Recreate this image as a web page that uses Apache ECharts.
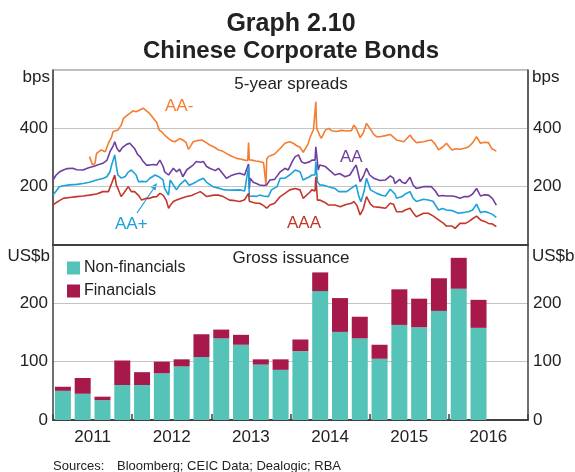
<!DOCTYPE html>
<html>
<head>
<meta charset="utf-8">
<title>Chinese Corporate Bonds</title>
<script src="https://cdn.jsdelivr.net/npm/echarts@6/dist/echarts.min.js"></script>
<style>
  html, body { margin: 0; padding: 0; background: #fff; }
  #chart { width: 575px; height: 472px; }
</style>
</head>
<body>
<div id="chart"></div>
<script>
// 5-year spreads, bps  [decimal year, value]
const spreadAAminus = [[2011.46,303],[2011.50,274],[2011.53,280],[2011.55,314],[2011.61,326],[2011.66,320],[2011.70,349],[2011.74,370],[2011.76,389],[2011.82,394],[2011.86,410],[2011.89,434],[2011.94,445],[2011.97,451],[2012.01,460],[2012.05,457],[2012.09,462],[2012.14,469],[2012.18,460],[2012.22,451],[2012.27,434],[2012.31,420],[2012.34,394],[2012.37,389],[2012.41,377],[2012.46,365],[2012.50,357],[2012.54,354],[2012.60,365],[2012.64,360],[2012.68,352],[2012.71,328],[2012.74,340],[2012.77,354],[2012.82,358],[2012.88,360],[2012.94,350],[2012.98,343],[2013.04,335],[2013.09,326],[2013.14,322],[2013.19,314],[2013.25,305],[2013.32,297],[2013.38,294],[2013.42,291],[2013.46,290],[2013.47,351],[2013.48,292],[2013.51,291],[2013.56,288],[2013.61,286],[2013.66,282],[2013.68,282],[2013.69,206],[2013.70,295],[2013.72,303],[2013.76,308],[2013.80,312],[2013.87,331],[2013.93,349],[2013.99,354],[2014.04,348],[2014.08,340],[2014.12,335],[2014.16,318],[2014.18,314],[2014.22,345],[2014.25,371],[2014.29,395],[2014.31,400],[2014.32,491],[2014.33,400],[2014.35,389],[2014.37,375],[2014.39,366],[2014.44,394],[2014.48,400],[2014.52,392],[2014.58,389],[2014.64,393],[2014.71,391],[2014.77,392],[2014.80,411],[2014.83,400],[2014.88,368],[2014.92,385],[2014.96,417],[2015.01,397],[2015.05,380],[2015.09,371],[2015.13,371],[2015.20,375],[2015.26,379],[2015.30,370],[2015.34,360],[2015.43,354],[2015.47,365],[2015.51,377],[2015.55,362],[2015.59,351],[2015.68,354],[2015.74,358],[2015.78,360],[2015.83,345],[2015.87,326],[2015.92,335],[2015.97,349],[2016.04,326],[2016.09,330],[2016.14,328],[2016.20,332],[2016.25,337],[2016.30,350],[2016.35,371],[2016.40,349],[2016.45,352],[2016.50,351],[2016.54,331],[2016.60,322]];

const spreadAA = [[2011.00,223],[2011.04,240],[2011.08,250],[2011.13,257],[2011.18,262],[2011.25,263],[2011.30,258],[2011.38,257],[2011.45,265],[2011.51,269],[2011.57,275],[2011.63,280],[2011.68,290],[2011.72,320],[2011.76,340],[2011.78,354],[2011.81,330],[2011.84,320],[2011.88,335],[2011.93,345],[2011.97,349],[2011.99,354],[2012.03,331],[2012.07,310],[2012.10,303],[2012.14,286],[2012.18,274],[2012.22,274],[2012.27,276],[2012.31,274],[2012.35,291],[2012.39,270],[2012.41,251],[2012.46,240],[2012.52,263],[2012.56,251],[2012.60,260],[2012.64,234],[2012.69,258],[2012.77,274],[2012.81,286],[2012.86,284],[2012.90,286],[2012.94,269],[2012.98,263],[2013.05,255],[2013.09,263],[2013.14,246],[2013.19,229],[2013.25,238],[2013.32,244],[2013.36,246],[2013.42,240],[2013.47,278],[2013.48,194],[2013.49,229],[2013.53,215],[2013.57,211],[2013.61,206],[2013.66,204],[2013.70,206],[2013.74,223],[2013.80,225],[2013.87,251],[2013.93,263],[2013.97,257],[2014.03,290],[2014.06,303],[2014.10,309],[2014.14,285],[2014.18,280],[2014.24,285],[2014.27,291],[2014.31,291],[2014.32,337],[2014.35,257],[2014.37,274],[2014.44,269],[2014.46,263],[2014.52,250],[2014.56,240],[2014.62,245],[2014.69,234],[2014.75,240],[2014.80,263],[2014.83,274],[2014.88,217],[2014.92,235],[2014.96,263],[2015.00,240],[2015.05,229],[2015.13,221],[2015.20,223],[2015.26,237],[2015.30,229],[2015.32,211],[2015.38,225],[2015.41,215],[2015.45,211],[2015.51,232],[2015.55,205],[2015.59,194],[2015.68,200],[2015.74,200],[2015.78,200],[2015.83,185],[2015.87,168],[2015.92,170],[2015.97,168],[2016.04,168],[2016.08,166],[2016.14,160],[2016.20,166],[2016.25,166],[2016.30,175],[2016.35,194],[2016.40,168],[2016.45,172],[2016.50,171],[2016.55,160],[2016.60,137]];

const spreadAAplus = [[2011.00,171],[2011.04,185],[2011.08,200],[2011.13,203],[2011.21,206],[2011.30,208],[2011.38,211],[2011.46,215],[2011.55,223],[2011.63,228],[2011.68,234],[2011.72,251],[2011.74,274],[2011.78,309],[2011.80,270],[2011.82,240],[2011.86,230],[2011.91,234],[2011.95,250],[2011.99,257],[2012.01,263],[2012.05,240],[2012.08,217],[2012.12,218],[2012.18,217],[2012.22,228],[2012.29,240],[2012.33,235],[2012.35,240],[2012.39,223],[2012.41,194],[2012.46,171],[2012.48,223],[2012.52,206],[2012.56,189],[2012.60,206],[2012.67,223],[2012.72,205],[2012.77,211],[2012.83,220],[2012.90,229],[2012.94,215],[2013.02,200],[2013.09,195],[2013.15,190],[2013.19,189],[2013.27,188],[2013.36,189],[2013.42,185],[2013.47,269],[2013.48,166],[2013.53,168],[2013.57,166],[2013.61,171],[2013.66,168],[2013.72,166],[2013.76,189],[2013.83,200],[2013.87,229],[2013.93,229],[2013.99,240],[2014.03,250],[2014.06,257],[2014.12,251],[2014.16,223],[2014.18,223],[2014.24,234],[2014.27,240],[2014.31,240],[2014.32,286],[2014.34,217],[2014.37,206],[2014.42,205],[2014.48,200],[2014.56,194],[2014.61,183],[2014.71,183],[2014.77,195],[2014.80,200],[2014.83,206],[2014.86,170],[2014.89,148],[2014.93,185],[2014.96,229],[2015.01,189],[2015.09,177],[2015.16,170],[2015.20,168],[2015.26,191],[2015.32,175],[2015.34,160],[2015.41,166],[2015.45,175],[2015.51,183],[2015.55,160],[2015.59,149],[2015.68,157],[2015.74,154],[2015.80,150],[2015.87,120],[2015.92,125],[2015.97,120],[2016.04,118],[2016.12,109],[2016.20,112],[2016.25,114],[2016.30,120],[2016.35,140],[2016.40,111],[2016.45,115],[2016.50,111],[2016.55,105],[2016.60,95]];

const spreadAAA = [[2011.00,137],[2011.04,145],[2011.08,152],[2011.13,160],[2011.21,163],[2011.30,166],[2011.38,168],[2011.46,171],[2011.55,175],[2011.63,183],[2011.70,183],[2011.74,211],[2011.78,240],[2011.80,205],[2011.82,194],[2011.86,166],[2011.90,180],[2011.95,200],[2011.99,183],[2012.03,183],[2012.08,170],[2012.12,154],[2012.18,160],[2012.22,160],[2012.27,165],[2012.31,166],[2012.35,177],[2012.39,171],[2012.43,154],[2012.46,126],[2012.48,135],[2012.52,149],[2012.56,154],[2012.64,162],[2012.69,166],[2012.75,170],[2012.81,177],[2012.86,183],[2012.90,175],[2012.94,166],[2013.03,171],[2013.09,171],[2013.15,166],[2013.23,154],[2013.30,152],[2013.36,149],[2013.42,155],[2013.47,177],[2013.48,150],[2013.53,146],[2013.57,143],[2013.61,143],[2013.66,135],[2013.70,126],[2013.74,137],[2013.80,143],[2013.87,166],[2013.93,177],[2013.99,189],[2014.06,194],[2014.12,189],[2014.16,160],[2014.18,160],[2014.24,180],[2014.27,189],[2014.31,185],[2014.32,234],[2014.34,154],[2014.37,154],[2014.44,145],[2014.48,137],[2014.56,137],[2014.63,131],[2014.69,138],[2014.77,143],[2014.80,149],[2014.84,135],[2014.88,103],[2014.92,125],[2014.96,166],[2015.01,140],[2015.05,131],[2015.13,129],[2015.20,126],[2015.26,143],[2015.30,140],[2015.34,114],[2015.41,114],[2015.45,120],[2015.51,126],[2015.55,110],[2015.59,97],[2015.68,109],[2015.74,109],[2015.80,100],[2015.87,86],[2015.93,75],[2015.97,65],[2016.04,65],[2016.08,57],[2016.14,74],[2016.21,74],[2016.25,80],[2016.30,90],[2016.35,99],[2016.40,86],[2016.46,80],[2016.50,74],[2016.55,72],[2016.60,63]];

// gross issuance, US$b, quarterly
const quarters = ['2011Q1','2011Q2','2011Q3','2011Q4','2012Q1','2012Q2','2012Q3','2012Q4',
                  '2013Q1','2013Q2','2013Q3','2013Q4','2014Q1','2014Q2','2014Q3','2014Q4',
                  '2015Q1','2015Q2','2015Q3','2015Q4','2016Q1','2016Q2'];
const nonFinancials = [50, 45, 34, 60, 60, 80, 92, 108, 140, 129, 95, 86, 118, 221, 151, 140, 105, 163, 159, 187, 225, 158];
const financials    = [ 7, 27,  6, 42, 22, 20, 12,  39,  15,  17,  9, 18,  20,  32,  58,  37,  24,  61,  49,  56,  53,  48];

const yearLabels = ['2011', '2012', '2013', '2014', '2015', '2016'];

const FONT = 'Arial, "Liberation Sans", sans-serif';
const C_AAm = '#f47d30', C_AA = '#6e3f9e', C_AAp = '#1ba1db', C_AAA = '#c3362b';
const C_NF = '#56c3b9', C_FIN = '#a6194a';
const AXIS = '#404040';

// every quarter of the axis span, so the category bands line up with the years
const allQuarters = yearLabels.flatMap(y => ['Q1', 'Q2', 'Q3', 'Q4'].map(q => y + q));

const chart = echarts.init(document.getElementById('chart'), null, { renderer: 'canvas' });

const lineSeries = (name, data, color) => ({
    name, type: 'line', data,
    xAxisIndex: 0, yAxisIndex: 0,
    symbol: 'none', showSymbol: false,
    lineStyle: { color, width: 1.6 },
    itemStyle: { color },
    silent: true
});

const text = (t, x, y, opts) => Object.assign({
    type: 'text',
    style: Object.assign({
        text: t, x, y, fill: '#222', font: '17px ' + FONT,
        textAlign: 'left', textVerticalAlign: 'middle'
    }, opts || {})
});

const option = {
    animation: false,
    backgroundColor: '#fff',
    textStyle: { fontFamily: FONT },
    grid: [
        { left: 53, right: 47, top: 70, height: 175, show: true, borderColor: '#777', borderWidth: 1, outerBoundsMode: 'none' },
        { left: 53, right: 47, top: 245, height: 175, outerBoundsMode: 'none' }
    ],
    legend: {
        orient: 'vertical', left: 67, top: 260, padding: 0,
        itemWidth: 13, itemHeight: 13, itemGap: 7,
        icon: 'rect',
        data: ['Non-financials', 'Financials'],
        textStyle: { fontSize: 16, color: '#222', fontFamily: FONT, padding: [0, 0, 0, -1] }
    },
    xAxis: [
        // top panel
        { type: 'value', gridIndex: 0, min: 2011, max: 2017, position: 'bottom',
          axisLine: { show: true, onZero: false, lineStyle: { color: AXIS, width: 2 } },
          axisTick: { show: false }, axisLabel: { show: false }, splitLine: { show: false } },
        // bottom panel labels (centred in each year)
        { type: 'value', gridIndex: 1, min: 2011, max: 2017, interval: 0.5, position: 'bottom',
          axisLine: { show: true, onZero: false, lineStyle: { color: AXIS, width: 2 } },
          axisTick: { show: false },
          axisLabel: { margin: 9, fontSize: 17, color: '#222', fontFamily: FONT,
                       formatter: v => {
                           const y = Math.floor(v);
                           return (v - y === 0.5) ? yearLabels[y - 2011] : '';
                       } },
          splitLine: { show: false } },
        // bottom panel year ticks
        { type: 'value', gridIndex: 1, min: 2011, max: 2017, interval: 1, position: 'bottom',
          axisLine: { show: false },
          axisTick: { show: true, inside: true, length: 6, lineStyle: { color: AXIS, width: 1.5 } },
          axisLabel: { show: false }, splitLine: { show: false } },
        // bottom panel quarters, for the bars
        { type: 'category', gridIndex: 1, data: allQuarters, boundaryGap: true, position: 'bottom',
          axisLine: { show: false }, axisTick: { show: false }, axisLabel: { show: false },
          splitLine: { show: false } }
    ],
    yAxis: [
        { type: 'value', gridIndex: 0, min: 0, max: 600, interval: 200, position: 'left',
          axisLine: { show: true, lineStyle: { color: AXIS, width: 1.5 } }, axisTick: { show: false },
          axisLabel: { margin: 5, fontSize: 17, color: '#222', fontFamily: FONT,
                       formatter: v => (v === 0 || v === 600) ? '' : v },
          splitLine: { show: true, lineStyle: { color: '#c4c4c4', width: 1 } } },
        { type: 'value', gridIndex: 0, min: 0, max: 600, interval: 200, position: 'right',
          axisLine: { show: true, lineStyle: { color: AXIS, width: 1.5 } }, axisTick: { show: false },
          axisLabel: { margin: 5, fontSize: 17, color: '#222', fontFamily: FONT,
                       formatter: v => (v === 0 || v === 600) ? '' : v },
          splitLine: { show: false } },
        { type: 'value', gridIndex: 1, min: 0, max: 300, interval: 100, position: 'left',
          axisLine: { show: true, lineStyle: { color: AXIS, width: 1.5 } }, axisTick: { show: false },
          axisLabel: { margin: 5, fontSize: 17, color: '#222', fontFamily: FONT,
                       formatter: v => v === 300 ? '' : v },
          splitLine: { show: true, lineStyle: { color: '#c4c4c4', width: 1 } } },
        { type: 'value', gridIndex: 1, min: 0, max: 300, interval: 100, position: 'right',
          axisLine: { show: true, lineStyle: { color: AXIS, width: 1.5 } }, axisTick: { show: false },
          axisLabel: { margin: 5, fontSize: 17, color: '#222', fontFamily: FONT,
                       formatter: v => v === 300 ? '' : v },
          splitLine: { show: false } }
    ],
    series: [
        lineSeries('AA-', spreadAAminus, C_AAm),
        lineSeries('AA', spreadAA, C_AA),
        lineSeries('AA+', spreadAAplus, C_AAp),
        lineSeries('AAA', spreadAAA, C_AAA),
        {
            name: 'Non-financials', type: 'bar', stack: 'issuance',
            xAxisIndex: 3, yAxisIndex: 2, barWidth: 16,
            itemStyle: { color: C_NF },
            data: quarters.map((q, i) => [q, nonFinancials[i]])
        },
        {
            name: 'Financials', type: 'bar', stack: 'issuance',
            xAxisIndex: 3, yAxisIndex: 2, barWidth: 16,
            itemStyle: { color: C_FIN },
            data: quarters.map((q, i) => [q, financials[i]])
        }
    ],
    graphic: [
        text('Graph 2.10', 291, 24, { textAlign: 'center', font: 'bold 25px ' + FONT }),
        text('Chinese Corporate Bonds', 291, 51, { textAlign: 'center', font: 'bold 24px ' + FONT }),
        text('5-year spreads', 291, 84, { textAlign: 'center' }),
        text('Gross issuance', 291, 258, { textAlign: 'center' }),
        text('bps', 50, 77, { textAlign: 'right' }),
        text('bps', 532, 77),
        text('US$b', 50, 256, { textAlign: 'right' }),
        text('US$b', 532, 256),
        text('AA-', 165, 106, { fill: C_AAm }),
        text('AA', 340, 157, { fill: C_AA }),
        text('AA+', 115, 224, { fill: C_AAp }),
        text('AAA', 287, 223, { fill: C_AAA }),
        { type: 'line', shape: { x1: 137, y1: 213, x2: 154, y2: 188 },
          style: { stroke: C_AAp, lineWidth: 1.2 } },
        { type: 'polygon', shape: { points: [[157, 183], [155.6, 190.5], [150.6, 187.1]] },
          style: { fill: C_AAp } },
        text('Sources:', 53, 466, { font: '13px ' + FONT }),
        text('Bloomberg; CEIC Data; Dealogic; RBA', 117, 466, { font: '13px ' + FONT })
    ]
};

chart.setOption(option);
</script>
</body>
</html>
